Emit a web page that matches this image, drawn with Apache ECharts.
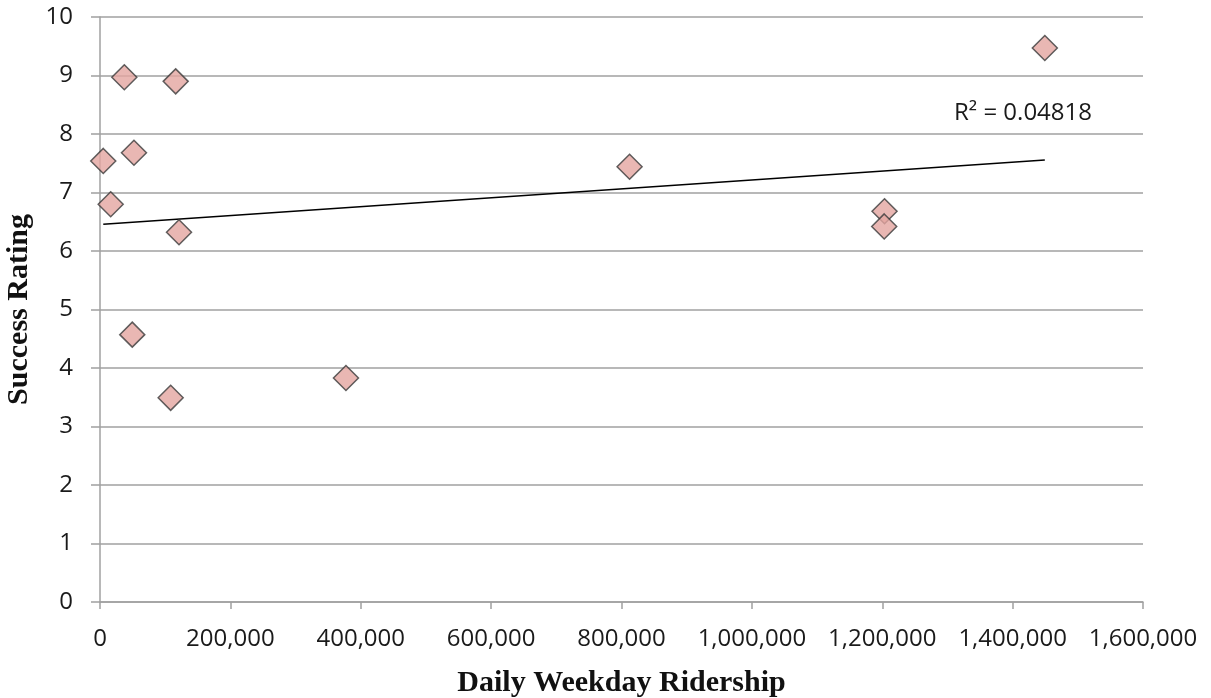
<!DOCTYPE html>
<html>
<head>
<meta charset="utf-8">
<title>Success Rating vs Daily Weekday Ridership</title>
<script src="https://cdn.jsdelivr.net/npm/echarts@6/dist/echarts.min.js"></script>
<style>
  html, body { margin: 0; padding: 0; background: #fff; }
  #chart { width: 1211px; height: 698px; }
</style>
</head>
<body>
<div id="chart"></div>
<script>
// Transit systems: daily weekday ridership and their success rating
const ridership = [5000, 37300, 116100, 52100, 16400, 121200, 49500, 108400, 377300, 812400, 1203500, 1203000, 1449400];
const rating    = [7.54, 8.97, 8.90, 7.68, 6.80, 6.32, 4.57, 3.49, 3.83, 7.44, 6.68, 6.42, 9.47];
const xTicks = [0, 200000, 400000, 600000, 800000, 1000000, 1200000, 1400000, 1600000];
const yTicks = [0, 1, 2, 3, 4, 5, 6, 7, 8, 9, 10];
const rSquaredText = 'R² = 0.04818';

// Least-squares linear trendline over the observed ridership range
function linearFit(xs, ys) {
  const n = xs.length;
  const mx = xs.reduce((a, b) => a + b, 0) / n;
  const my = ys.reduce((a, b) => a + b, 0) / n;
  let sxy = 0, sxx = 0;
  for (let i = 0; i < n; i++) {
    sxy += (xs[i] - mx) * (ys[i] - my);
    sxx += (xs[i] - mx) * (xs[i] - mx);
  }
  const slope = sxy / sxx;
  return { slope, intercept: my - slope * mx };
}
const fit = linearFit(ridership, rating);
const xMin = Math.min(...ridership), xMax = Math.max(...ridership);
const trend = [[xMin, fit.intercept + fit.slope * xMin], [xMax, fit.intercept + fit.slope * xMax]];

const points = ridership.map((x, i) => [x, rating[i]]);
const fmt = v => v.toLocaleString('en-US');

const chart = echarts.init(document.getElementById('chart'), null, { renderer: 'canvas' });
chart.setOption({
  animation: false,
  backgroundColor: '#ffffff',
  grid: { left: 100, right: 68, top: 17, bottom: 96, containLabel: false, outerBoundsMode: 'none' },
  xAxis: {
    type: 'value',
    min: xTicks[0], max: xTicks[xTicks.length - 1], interval: xTicks[1] - xTicks[0],
    name: 'Daily Weekday Ridership',
    nameLocation: 'middle', nameGap: 66,
    nameTextStyle: { fontFamily: 'Liberation Serif', fontWeight: 'bold', fontSize: 30, color: '#111' },
    axisLine: { show: true, lineStyle: { color: '#a0a0a0', width: 1.5 } },
    axisTick: { show: true, length: 7, lineStyle: { color: '#a0a0a0', width: 1.5 } },
    axisLabel: { formatter: fmt, margin: 25, fontFamily: 'Open Sans', fontSize: 24, color: '#1a1a1a' },
    splitLine: { show: false }
  },
  yAxis: {
    type: 'value',
    min: yTicks[0], max: yTicks[yTicks.length - 1], interval: 1,
    name: 'Success Rating',
    nameLocation: 'middle', nameGap: 63, nameRotate: 90,
    nameTextStyle: { fontFamily: 'Liberation Serif', fontWeight: 'bold', fontSize: 30, color: '#111' },
    axisLine: { show: true, lineStyle: { color: '#a0a0a0', width: 1.5 } },
    axisTick: { show: true, inside: false, length: 9, lineStyle: { color: '#a0a0a0', width: 1.5 } },
    axisLabel: { margin: 27, fontFamily: 'Open Sans', fontSize: 24, color: '#1a1a1a' },
    splitLine: { show: true, lineStyle: { color: '#a0a0a0', width: 1.5 } }
  },
  series: [
    {
      type: 'line',
      data: trend,
      symbol: 'none',
      lineStyle: { color: '#000', width: 1.5 },
      z: 3,
      silent: true
    },
    {
      type: 'scatter',
      data: points,
      symbol: 'diamond',
      symbolSize: 25,
      itemStyle: { color: '#e4a5a0', borderColor: '#3a3a3a', borderWidth: 1.5 },
      z: 4
    }
  ],
  graphic: [{
    type: 'text',
    left: 954, top: 101,
    style: { text: rSquaredText, font: '24px "Open Sans"', fill: '#1a1a1a' }
  }]
});
</script>
</body>
</html>
